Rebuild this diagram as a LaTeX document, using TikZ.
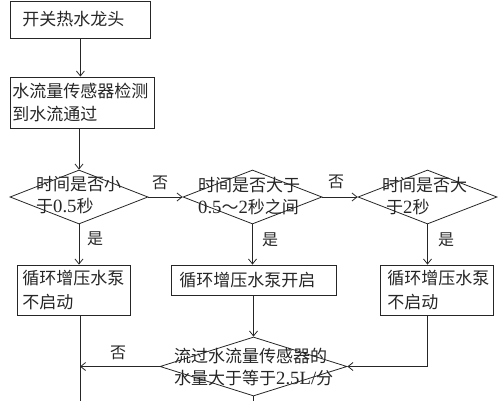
\documentclass[tikz,border=0pt]{standalone}
\usepackage{fontspec}
\setmainfont[Scale=1.1]{Liberation Serif}
\newfontfamily\cjk{Noto Sans CJK SC}
\usetikzlibrary{shapes.geometric,arrows.meta}
\newcommand{\zh}[1]{{\cjk #1}}
\begin{document}
\begin{tikzpicture}[x=1pt,y=-1pt,
  every node/.style={text=black!85},
  ln/.style={draw=black!85,line width=0.8pt},
  arr/.style={ln,-{Straight Barb[length=5pt,width=8pt,line width=0.8pt]}},
  boxnode/.style={ln,rectangle,anchor=west,align=left,inner ysep=0pt,
     font=\fontsize{17}{23.5}\selectfont},
  dia/.style={ln,diamond,inner sep=0pt},
  dtext/.style={anchor=west,align=left,inner sep=0pt,
     font=\fontsize{17}{22}\selectfont},
  lbl/.style={inner sep=0pt,font=\fontsize{16}{16}\selectfont\cjk}]
\useasboundingbox (0,0) rectangle (500,401);
% boxes
\node[boxnode,minimum width=140pt,minimum height=37pt,inner xsep=12pt,text width=116pt] (b1) at (10,19.5) {\zh{开关热水龙头}};
\node[boxnode,minimum width=144pt,minimum height=51pt,inner xsep=2pt,text width=140pt] (b2) at (10,102.5) {\zh{水流量传感器检测}\\\zh{到水流通过}};
% diamonds
\node[dia,minimum width=138pt,minimum height=54pt] (d1) at (79,197) {};
\node[dia,minimum width=139pt,minimum height=54pt] (d2) at (252.5,197) {};
\node[dia,minimum width=139pt,minimum height=54pt] (d3) at (427.5,197) {};
\node[dtext] (t1) at (36,195) {\zh{时间是否小}\\\zh{于}0.5\zh{秒}};
\node[dtext] (t2) at (198,196) {\zh{时间是否大于}\\0.5\zh{～}2\zh{秒之间}};
\node[dtext] (t3) at (382,196) {\zh{时间是否大}\\\hspace*{4pt}\zh{于}2\zh{秒}};
% lower boxes
\node[boxnode,minimum width=113pt,minimum height=50pt,inner xsep=5pt,text width=103pt] (bA) at (17,290) {\zh{循环增压水泵}\\\zh{不启动}};
\node[boxnode,minimum width=165pt,minimum height=30pt,inner xsep=8pt,text width=149pt] (bB) at (171,280) {\zh{循环增压水泵开启}};
\node[boxnode,minimum width=113pt,minimum height=50pt,inner xsep=7pt,text width=99pt] (bC) at (380,290) {\zh{循环增压水泵}\\\zh{不启动}};
% bottom diamond
\node[dia,minimum width=187pt,minimum height=59pt] (d4) at (253.5,366.5) {};
\node[dtext] (t4) at (174,367) {\zh{流过水流量传感器的}\\\zh{水量大于等于}2.5L/\zh{分}};
\coordinate (botL) at (80,401);
\coordinate (botM) at (253.5,401);
% connectors
\draw[arr] (b1.south) -- (b1.south |- b2.north);
\draw[arr] (d1.north |- b2.south) -- (d1.north);
\draw[arr] (d1.east) -- (d2.west);
\draw[arr] (d2.east) -- (d3.west);
\draw[arr] (d1.south) -- (d1.south |- bA.north);
\draw[arr] (d2.south) -- (d2.south |- bB.north);
\draw[arr] (d3.south) -- (d3.south |- bC.north);
\draw[arr] (bB.south -| d4.north) -- (d4.north);
\draw[arr] (d3.south |- bC.south) |- (d4.east);
\draw[ln] (botL |- bA.south) -- (botL);
\draw[arr] (d4.west) -- (d4.west -| botL);
\draw[ln] (d4.south) -- (botM);
% labels
\node[lbl] (n1) at (160,183) {否};
\node[lbl] (n2) at (336,182) {否};
\node[lbl] (n3) at (118,353) {否};
\node[lbl] (y1) at (95,239) {是};
\node[lbl] (y2) at (270,240) {是};
\node[lbl] (y3) at (446,240) {是};
\end{tikzpicture}
\end{document}
